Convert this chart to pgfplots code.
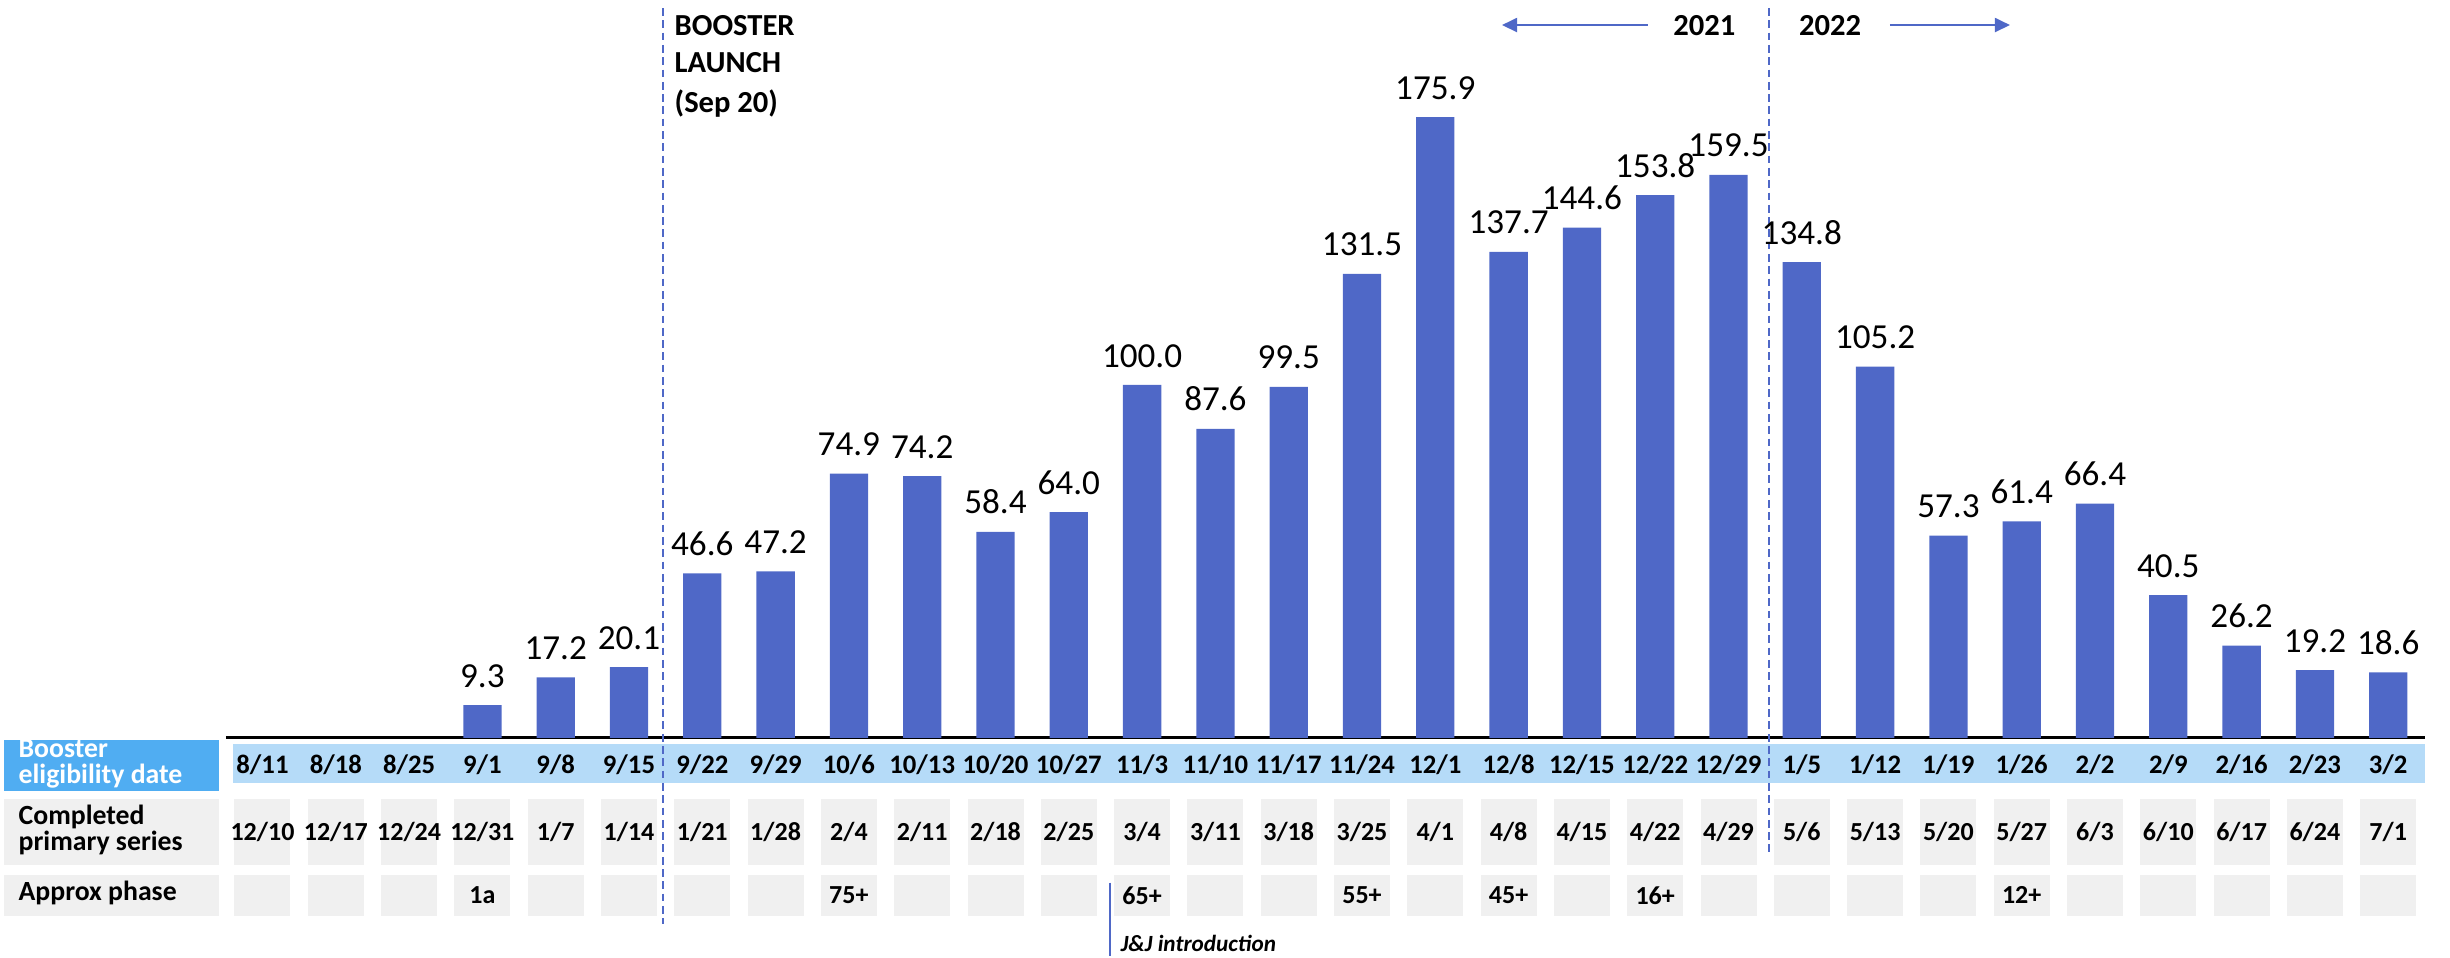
\documentclass[border=0pt]{standalone}
\usepackage{pgfplots}
\pgfplotsset{compat=1.18}
\usepackage{fontspec}
\setmainfont{Carlito}
\usetikzlibrary{arrows.meta}
\definecolor{barblue}{RGB}{79,104,199}
\definecolor{bandblue}{RGB}{181,219,248}
\definecolor{labblue}{RGB}{80,173,242}
\definecolor{cellgray}{RGB}{240,240,240}
\newcommand\rowA[1]{\ifcase#1 8/11\or 8/18\or 8/25\or 9/1\or 9/8\or 9/15\or 9/22\or 9/29\or 10/6\or 10/13\or 10/20\or 10/27\or 11/3\or 11/10\or 11/17\or 11/24\or 12/1\or 12/8\or 12/15\or 12/22\or 12/29\or 1/5\or 1/12\or 1/19\or 1/26\or 2/2\or 2/9\or 2/16\or 2/23\or 3/2\fi}
\newcommand\rowB[1]{\ifcase#1 12/10\or 12/17\or 12/24\or 12/31\or 1/7\or 1/14\or 1/21\or 1/28\or 2/4\or 2/11\or 2/18\or 2/25\or 3/4\or 3/11\or 3/18\or 3/25\or 4/1\or 4/8\or 4/15\or 4/22\or 4/29\or 5/6\or 5/13\or 5/20\or 5/27\or 6/3\or 6/10\or 6/17\or 6/24\or 7/1\fi}
\newcommand\rowC[1]{\ifcase#1 \or\or\or 1a\or\or\or\or\or 75+\or\or\or\or 65+\or\or\or 55+\or\or 45+\or\or 16+\or\or\or\or\or 12+\or\or\or\or\or\fi}
\begin{document}
\begin{tikzpicture}
\begin{axis}[
  scale only axis,
  width=21.99cm, height=7.38cm,
  xmin=-0.5, xmax=29.5, ymin=0, ymax=209.07,
  enlargelimits=false,
  clip=false,
  axis x line*=bottom,
  axis y line=none,
  x axis line style={line width=0.85pt, black},
  xtick=\empty,
  ytick=\empty,
]
% background cells
\fill[bandblue] (axis cs:-0.407,-1.70) rectangle (axis cs:29.5,-12.83);
\fill[labblue] (axis cs:-3.527,-0.57) rectangle (axis cs:-0.593,-14.93);
\fill[cellgray] (axis cs:-3.527,-17.28) rectangle (axis cs:-0.593,-35.98);
\fill[cellgray] (axis cs:-3.527,-38.81) rectangle (axis cs:-0.593,-50.34);
\pgfplotsinvokeforeach{0,...,29}{
  \fill[cellgray] (axis cs:{#1-0.382},-17.28) rectangle (axis cs:{#1+0.382},-35.98);
  \fill[cellgray] (axis cs:{#1-0.382},-38.81) rectangle (axis cs:{#1+0.382},-50.34);
  \node[font=\fontsize{7.6}{9}\selectfont\bfseries, inner sep=0pt] at (axis cs:#1,-7.5) {\rowA{#1}};
  \node[font=\fontsize{7.4}{8}\selectfont\bfseries, inner sep=0pt] at (axis cs:#1,-26.63) {\rowB{#1}};
  \node[font=\fontsize{7.4}{8}\selectfont\bfseries, inner sep=0pt] at (axis cs:#1,-44.56) {\rowC{#1}};
}
\node[anchor=west, align=left, text=white, inner sep=0pt, font=\fontsize{7.9}{7.5}\selectfont\bfseries] at (axis cs:-3.336,-7.28) {Booster\\eligibility date};
\node[anchor=west, align=left, inner sep=0pt, font=\fontsize{7.9}{7.5}\selectfont\bfseries] at (axis cs:-3.336,-26.06) {Completed\\primary series};
\node[anchor=west, align=left, inner sep=0pt, font=\fontsize{7.9}{7.5}\selectfont\bfseries] at (axis cs:-3.336,-43.9) {Approx phase};
% bars
\addplot[ybar, bar width=0.383cm, fill=barblue, draw=none,
  nodes near coords={\pgfmathprintnumber[fixed,fixed zerofill,precision=1,assume math mode=true]{\pgfplotspointmeta}},
  every node near coord/.append style={font=\fontsize{10}{12}\selectfont, text=black, inner sep=0pt, anchor=south, yshift=0.17cm}]
coordinates {
(3,9.3) (4,17.2) (5,20.1) (6,46.6) (7,47.2) (8,74.9) (9,74.2) (10,58.4) (11,64.0)
(12,100.0) (13,87.6) (14,99.5) (15,131.5) (16,175.9) (17,137.7) (18,144.6) (19,153.8)
(20,159.5) (21,134.8) (22,105.2) (23,57.3) (24,61.4) (25,66.4) (26,40.5) (27,26.2)
(28,19.2) (29,18.6)
};
% annotations
\draw[barblue, line width=0.6pt, dash pattern=on 2.2pt off 1.3pt] (axis cs:5.469,206.8) -- (axis cs:5.469,-52.7);
\draw[barblue, line width=0.6pt, dash pattern=on 2.2pt off 1.3pt] (axis cs:20.55,206.8) -- (axis cs:20.55,-33.1);
\draw[barblue, line width=0.6pt] (axis cs:11.566,-41.0) -- (axis cs:11.566,-61.76);
\node[anchor=base west, inner sep=0pt, font=\fontsize{6.6}{7}\selectfont\bfseries\itshape] at (axis cs:11.70,-60.4) {J\&J introduction};
\node[anchor=base west, inner sep=0pt, font=\fontsize{8.7}{10}\selectfont\bfseries] at (axis cs:5.614,199.15) {BOOSTER};
\node[anchor=base west, inner sep=0pt, font=\fontsize{8.7}{10}\selectfont\bfseries] at (axis cs:5.614,188.4) {LAUNCH};
\node[anchor=base west, inner sep=0pt, font=\fontsize{8.7}{10}\selectfont\bfseries] at (axis cs:5.614,177.3) {(Sep 20)};
\node[anchor=base, inner sep=0pt, font=\fontsize{8.7}{10}\selectfont\bfseries] at (axis cs:19.67,199.15) {2021};
\node[anchor=base, inner sep=0pt, font=\fontsize{8.7}{10}\selectfont\bfseries] at (axis cs:21.385,199.15) {2022};
\draw[barblue, line width=0.6pt, -{Triangle[length=4.3pt,width=4pt]}] (axis cs:18.90,201.98) -- (axis cs:16.91,201.98);
\draw[barblue, line width=0.6pt, -{Triangle[length=4.3pt,width=4pt]}] (axis cs:22.2,201.98) -- (axis cs:23.84,201.98);
\path (axis cs:-3.5812,-61.76) rectangle (axis cs:29.843,209.07);
\end{axis}
\end{tikzpicture}
\end{document}
